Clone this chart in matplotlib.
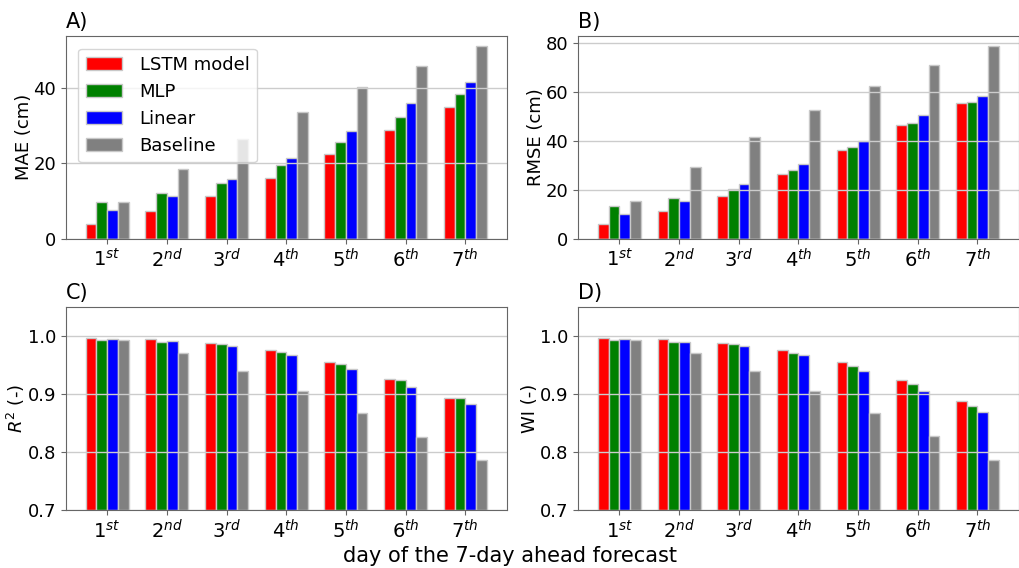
import matplotlib
matplotlib.use('Agg')
import matplotlib.pyplot as plt
import numpy as np

days = ['1$^{st}$', '2$^{nd}$', '3$^{rd}$', '4$^{th}$', '5$^{th}$', '6$^{th}$', '7$^{th}$']
models = ['LSTM model', 'MLP', 'Linear', 'Baseline']
colors = ['red', 'green', 'blue', 'gray']

# values
mae_lstm = [4.0, 7.4, 11.2, 16.2, 22.4, 28.8, 34.8]
mae_mlp = [9.8, 12.2, 14.8, 19.6, 25.6, 32.3, 38.3]
mae_lin = [7.5, 11.2, 15.9, 21.5, 28.5, 36.1, 41.5]
mae_base = [9.7, 18.5, 26.5, 33.6, 40.2, 45.9, 51.2]

rmse_lstm = [5.9, 11.3, 17.6, 26.3, 36.4, 46.5, 55.6]
rmse_mlp = [13.5, 16.4, 20.4, 28.1, 37.5, 47.2, 55.9]
rmse_lin = [10.1, 15.3, 22.2, 30.5, 39.9, 50.6, 58.4]
rmse_base = [15.3, 29.2, 41.6, 52.6, 62.3, 71.0, 78.9]

r2_lstm = [0.998, 0.995, 0.989, 0.976, 0.955, 0.927, 0.894]
r2_mlp = [0.994, 0.990, 0.986, 0.973, 0.952, 0.924, 0.893]
r2_lin = [0.996, 0.992, 0.983, 0.968, 0.944, 0.912, 0.883]
r2_base = [0.993, 0.972, 0.941, 0.905, 0.867, 0.827, 0.787]

wi_lstm = [0.998, 0.995, 0.989, 0.976, 0.955, 0.924, 0.889]
wi_mlp = [0.994, 0.991, 0.986, 0.972, 0.949, 0.917, 0.879]
wi_lin = [0.996, 0.991, 0.983, 0.967, 0.941, 0.906, 0.869]
wi_base = [0.993, 0.971, 0.941, 0.906, 0.867, 0.828, 0.787]

panels = [
    ('A)', 'MAE (cm)', [mae_lstm, mae_mlp, mae_lin, mae_base]),
    ('B)', 'RMSE (cm)', [rmse_lstm, rmse_mlp, rmse_lin, rmse_base]),
    ('C)', '$R^2$ (-)', [r2_lstm, r2_mlp, r2_lin, r2_base]),
    ('D)', 'WI (-)', [wi_lstm, wi_mlp, wi_lin, wi_base]),
]

plt.rcParams['font.size'] = 13

fig, axs = plt.subplots(2, 2, figsize=(10.2, 5.68), dpi=100)
fig.subplots_adjust(left=0.0644, right=0.999, top=0.9366, bottom=0.1021,
                    wspace=0.161, hspace=0.34)

x = np.arange(1, 8)
w = 0.18
for ax, (tag, ylab, series) in zip(axs.flat, panels):
    for i, (vals, c, name) in enumerate(zip(series, colors, models)):
        ax.bar(x + (i - 1.5) * w, vals, w, color=c, edgecolor='#c8c8c8',
               linewidth=1, label=name)
    ax.set_xticks(x)
    ax.set_xticklabels(days, fontsize=14)
    ax.set_ylabel(ylab, labelpad=0.5)
    ax.set_title(tag, loc='left', fontsize=15)
    ax.grid(axis='y', color='#cccccc', linewidth=1)
    for s in ax.spines.values():
        s.set_color('#666666')
    ax.tick_params(colors='#666666', labelcolor='black')

for ax in axs[1]:
    ax.set_ylim(0.7, 1.05)
    ax.set_yticks([0.7, 0.8, 0.9, 1.0])

axs[0, 0].legend(loc='upper left', fontsize=13, borderaxespad=0.7,
                 handletextpad=1.0)
fig.supxlabel('day of the 7-day ahead forecast', fontsize=15, y=0.003)

plt.savefig('out.png', dpi=100)
